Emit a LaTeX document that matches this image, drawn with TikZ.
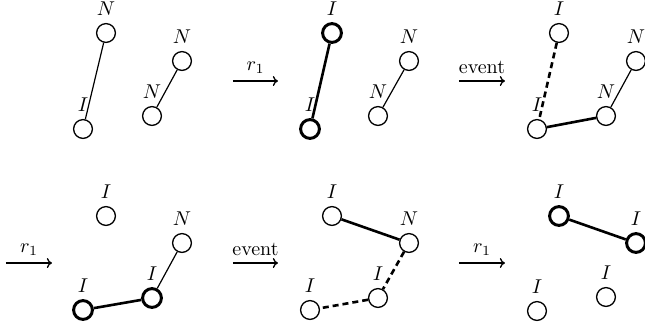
\documentclass[tikz,border=0pt]{standalone}
\usetikzlibrary{arrows.meta}
\tikzset{
  vtx/.style={circle,draw,line width=0.65pt,minimum size=9.4pt,inner sep=0pt,label distance=0pt},
  vtxbold/.style={vtx,line width=1.5pt},
  edgethin/.style={line width=0.6pt},
  edgebold/.style={line width=1.3pt},
  edgedash/.style={line width=1.3pt,dash pattern=on 3pt off 2pt},
  trans/.style={-{To[length=2.6pt,width=5pt]},line width=0.65pt},
}
\begin{document}
\begin{tikzpicture}[x=0.5pt,y=-0.5pt,line cap=butt]
  \useasboundingbox (0,0) rectangle (645,329);
  % first row
  \node[vtx,label=above:$N$] (p1t) at (106,33) {};
  \node[vtx,label=above:$I$] (p1b) at (83,129) {};
  \node[vtx,label=above:$N$] (p1r) at (182,61) {};
  \node[vtx,label=above:$N$] (p1l) at (152,116) {};
  \draw[edgethin] (p1t) -- (p1b);
  \draw[edgethin] (p1r) -- (p1l);

  \coordinate (t1s) at (233,81);
  \coordinate (t1e) at (278,81);
  \draw[trans] (t1s) -- node[above] (t1l) {$r_1$} (t1e);

  \node[vtxbold,label=above:$I$] (p2t) at (332,33) {};
  \node[vtxbold,label=above:$I$] (p2b) at (310,129) {};
  \node[vtx,label=above:$N$] (p2r) at (409,61) {};
  \node[vtx,label=above:$N$] (p2l) at (378,116) {};
  \draw[edgebold] (p2t) -- (p2b);
  \draw[edgethin] (p2r) -- (p2l);

  \coordinate (t2s) at (459,81);
  \coordinate (t2e) at (505,81);
  \draw[trans] (t2s) -- node[above] (t2l) {event} (t2e);

  \node[vtx,label=above:$I$] (p3t) at (559,33) {};
  \node[vtx,label=above:$I$] (p3b) at (537,129) {};
  \node[vtx,label=above:$N$] (p3r) at (636,61) {};
  \node[vtx,label=above:$N$] (p3l) at (606,116) {};
  \draw[edgedash] (p3t) -- (p3b);
  \draw[edgebold] (p3b) -- (p3l);
  \draw[edgethin] (p3l) -- (p3r);

  % second row
  \coordinate (t3s) at (6,263);
  \coordinate (t3e) at (52,263);
  \draw[trans] (t3s) -- node[above] (t3l) {$r_1$} (t3e);

  \node[vtx,label=above:$I$] (p4t) at (106,216) {};
  \node[vtxbold,label=above:$I$] (p4b) at (83,310) {};
  \node[vtx,label=above:$N$] (p4r) at (182,243) {};
  \node[vtxbold,label=above:$I$] (p4l) at (152,298) {};
  \draw[edgebold] (p4b) -- (p4l);
  \draw[edgethin] (p4l) -- (p4r);

  \coordinate (t4s) at (233,263);
  \coordinate (t4e) at (278,263);
  \draw[trans] (t4s) -- node[above] (t4l) {event} (t4e);

  \node[vtx,label=above:$I$] (p5t) at (332,216) {};
  \node[vtx,label=above:$I$] (p5b) at (310,310) {};
  \node[vtx,label=above:$N$] (p5r) at (409,243) {};
  \node[vtx,label=above:$I$] (p5l) at (378,298) {};
  \draw[edgebold] (p5t) -- (p5r);
  \draw[edgedash] (p5r) -- (p5l);
  \draw[edgedash] (p5l) -- (p5b);

  \coordinate (t5s) at (459,263);
  \coordinate (t5e) at (505,263);
  \draw[trans] (t5s) -- node[above] (t5l) {$r_1$} (t5e);

  \node[vtxbold,label=above:$I$] (p6t) at (559,216) {};
  \node[vtx,label=above:$I$] (p6b) at (537,311) {};
  \node[vtxbold,label=above:$I$] (p6r) at (636,243) {};
  \node[vtx,label=above:$I$] (p6l) at (606,297) {};
  \draw[edgebold] (p6t) -- (p6r);
\end{tikzpicture}
\end{document}
